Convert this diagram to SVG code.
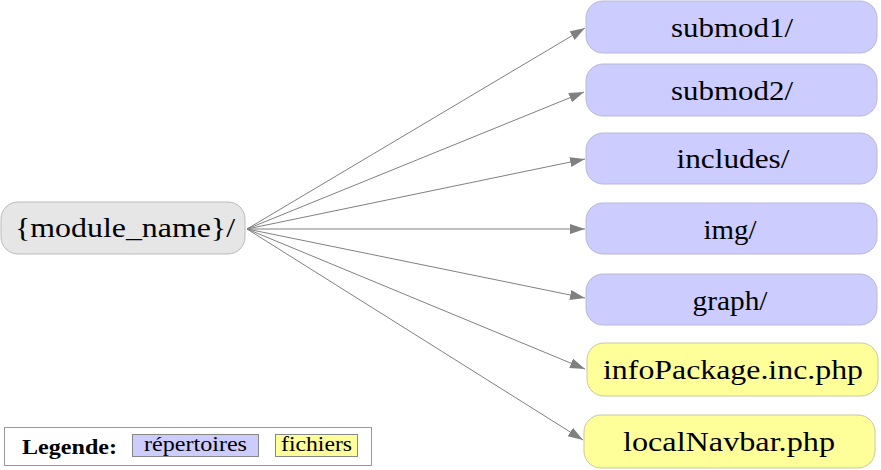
<svg xmlns="http://www.w3.org/2000/svg" width="881" height="470" viewBox="0 0 881 470">
<style>
  text { fill: #000; }
  .n { font-size: 28px; text-anchor: middle; }
  .dir { fill: #ccccff; stroke: #b8b8d8; stroke-width: 1; }
  .file { fill: #ffff99; stroke: #c8c8a0; stroke-width: 1; }
  .root { fill: #e6e6e6; stroke: #bbbbbb; stroke-width: 1; }
  .e { stroke: #808080; stroke-width: 1; fill: none; marker-end: url(#arr); }
  .lg { font-size: 21px; }
</style>
<defs>
  <marker id="arr" markerUnits="userSpaceOnUse" markerWidth="16" markerHeight="11" refX="15" refY="5" orient="auto">
    <path d="M0,0 L15,5 L0,10 z" fill="#808080"/>
  </marker>
</defs>
<g id="edges">
  <line class="e" x1="247" y1="229" x2="585" y2="28"/>
  <line class="e" x1="247" y1="229" x2="584" y2="92"/>
  <line class="e" x1="247" y1="229" x2="585" y2="159"/>
  <line class="e" x1="247" y1="229" x2="585" y2="229"/>
  <line class="e" x1="247" y1="229" x2="585" y2="298"/>
  <line class="e" x1="247" y1="229" x2="585" y2="369"/>
  <line class="e" x1="247" y1="229" x2="583" y2="440"/>
</g>
<g font-family="'Liberation Serif', 'DejaVu Serif', 'Times New Roman', serif">
<g id="module_name">
  <rect class="root" x="1" y="202" width="244" height="52" rx="17"/>
  <text class="n" x="125" y="237" textLength="220" lengthAdjust="spacingAndGlyphs">{module_name}/</text>
</g>
<g id="submod1">
  <rect class="dir" x="586" y="1" width="291" height="52" rx="17"/>
  <text class="n" x="732" y="37" textLength="122" lengthAdjust="spacingAndGlyphs">submod1/</text>
</g>
<g id="submod2">
  <rect class="dir" x="586" y="64" width="291" height="52" rx="17"/>
  <text class="n" x="732" y="100" textLength="122" lengthAdjust="spacingAndGlyphs">submod2/</text>
</g>
<g id="includes">
  <rect class="dir" x="586" y="133" width="291" height="51" rx="17"/>
  <text class="n" x="733" y="168" textLength="113" lengthAdjust="spacingAndGlyphs">includes/</text>
</g>
<g id="img">
  <rect class="dir" x="586" y="203" width="291" height="51" rx="17"/>
  <text class="n" x="730" y="239" textLength="53" lengthAdjust="spacingAndGlyphs">img/</text>
</g>
<g id="graph">
  <rect class="dir" x="586" y="274" width="291" height="51" rx="17"/>
  <text class="n" x="730" y="310" textLength="75" lengthAdjust="spacingAndGlyphs">graph/</text>
</g>
<g id="infoPackage">
  <rect class="file" x="587" y="343" width="291" height="53" rx="17"/>
  <text class="n" x="733" y="379" textLength="260" lengthAdjust="spacingAndGlyphs">infoPackage.inc.php</text>
</g>
<g id="localNavbar">
  <rect class="file" x="584" y="415" width="291" height="53" rx="17"/>
  <text class="n" x="729" y="451" textLength="212" lengthAdjust="spacingAndGlyphs">localNavbar.php</text>
</g>
<g id="legend">
  <rect x="4.5" y="427.5" width="367" height="38" fill="#ffffff" stroke="#999999" stroke-width="1"/>
  <text class="lg" x="22" y="454" font-weight="bold" textLength="95" lengthAdjust="spacingAndGlyphs">Legende:</text>
  <rect x="132.5" y="434.5" width="126" height="22" fill="#ccccff" stroke="#888888" stroke-width="1"/>
  <text class="lg" x="144" y="451" textLength="103" lengthAdjust="spacingAndGlyphs">répertoires</text>
  <rect x="275.5" y="434.5" width="82" height="22" fill="#ffff99" stroke="#888888" stroke-width="1"/>
  <text class="lg" x="281" y="451" textLength="71" lengthAdjust="spacingAndGlyphs">fichiers</text>
</g>
</g>
</svg>
